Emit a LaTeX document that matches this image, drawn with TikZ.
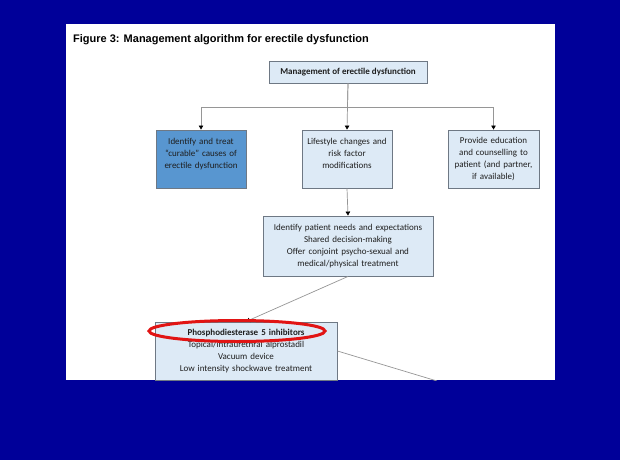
\documentclass[tikz,border=0pt]{standalone}
\usepackage{fontspec}
\setmainfont{Carlito}
\newfontfamily\titlefont{Liberation Sans}
\usetikzlibrary{arrows.meta}
\definecolor{bgblue}{RGB}{0,0,153}
\definecolor{boxfill}{RGB}{221,234,246}
\definecolor{darkfill}{RGB}{88,150,208}
\definecolor{boxline}{RGB}{110,120,132}
\definecolor{conn}{RGB}{150,150,150}
\definecolor{txt}{RGB}{30,30,30}
\definecolor{ringred}{RGB}{225,20,20}
\tikzset{
  box/.style={draw=boxline, line width=0.9pt, fill=boxfill, align=center, inner sep=1pt,
    font=\fontsize{9}{12}\selectfont, text=txt},
  conline/.style={draw=conn, line width=0.7pt},
  arr/.style={conline, -{Triangle[length=4pt,width=4.5pt,fill=black,color=black]}},
}
\begin{document}
\begin{tikzpicture}[x=1pt,y=-1pt]
\useasboundingbox (0,0) rectangle (620,460);
\fill[bgblue] (0,0) rectangle (620,460);
\fill[white] (66,24) rectangle (555,380);
\begin{scope}
\clip (66,24) rectangle (555,380);
\node[anchor=base west, font=\titlefont\bfseries\fontsize{11}{13}\selectfont, text=black, inner sep=0pt] (title) at (73,42) {Figure 3: Management algorithm for erectile dysfunction};

\node[box, minimum width=158pt, minimum height=22pt, font=\bfseries\fontsize{9}{12}\selectfont] (top) at (348,72) {Management of erectile dysfunction};
\node[box, fill=darkfill, minimum width=90pt, minimum height=58pt, text width=88pt] (left) at (201,159) {Identify and treat\\``curable'' causes of\\erectile dysfunction\\\mbox{}};
\node[box, minimum width=90pt, minimum height=58pt, text width=88pt] (mid) at (347,159) {Lifestyle changes and\\risk factor\\modifications\\\mbox{}};
\node[box, minimum width=91pt, minimum height=58pt, text width=89pt] (right) at (493.5,159) {Provide education\\and counselling to\\patient (and partner,\\if available)};
\node[box, minimum width=170pt, minimum height=60pt, text width=168pt] (need) at (348,246) {Identify patient needs and expectations\\Shared decision-making\\Offer conjoint psycho-sexual and\\medical/physical treatment};
\node[box, minimum width=182pt, minimum height=58pt, text width=180pt] (pde) at (246,351) {\textbf{Phosphodiesterase 5 inhibitors}\\Topical/intraurethral alprostadil\\Vacuum device\\Low intensity shockwave treatment};

\coordinate (j) at (347.5,107);
\coordinate (off) at (437,381);
\draw[conline] (top.south) -- (j);
\draw[arr] (j) -| (left.north);
\draw[arr] (j) -| (right.north);
\draw[arr] (top.south) -- (mid.north);
\draw[arr] (mid.south) -- (need.north);
\draw[arr] (need.south) -- (pde.north);
\draw[conline] (pde.east) -- (off);
\end{scope}
\draw[ringred, line width=3pt] (237,331) ellipse [x radius=88, y radius=10.5];
\end{tikzpicture}
\end{document}
